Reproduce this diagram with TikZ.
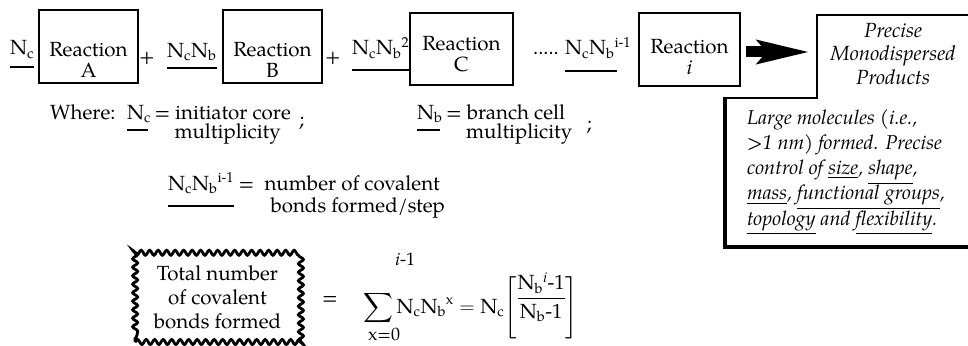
\documentclass[tikz,border=0pt]{standalone}
\usepackage{amsmath}
\usepackage{fontspec}
\setmainfont{TeX Gyre Pagella}
\usetikzlibrary{arrows.meta,decorations.pathmorphing}
\begin{document}
\begin{tikzpicture}[x=1pt,y=-1pt,
  every node/.style={inner sep=0pt, font=\fontsize{20.5}{23}\selectfont},
  rbox/.style={draw, line width=1.8pt},
  rtext/.style={align=center, font=\fontsize{20.5}{21}\selectfont},
  lab/.style={anchor=base west},
  ulthick/.style={line width=1.8pt},
  fatarrow/.style={line width=11pt, -{Stealth[length=52pt,width=22pt,inset=8pt]}},
  pbox/.style={line width=2.2pt},
  pboxthick/.style={line width=3.5pt},
  wavy/.style={draw, line width=2.8pt, decorate, decoration={snake, amplitude=2.5pt, segment length=8.5pt}},
]
\useasboundingbox (0,0) rectangle (968,345);

% ---- row 1
\node[lab] (l1) at (10,55) {N\textsubscript{c}};
\draw[ulthick] ([yshift=-12pt]l1.base west) -- ([yshift=-12pt]l1.base east);
\node[rbox, minimum width=99pt, minimum height=73pt] (bA) at (88.5,46.5) {};
\node[rtext] (tA) at (88.5,60) {Reaction\\A};

\node (p1) at (147,58) {+};
\node[lab] (l2) at (167,57) {N\textsubscript{c}N\textsubscript{b}};
\draw[ulthick] ([yshift=-11pt]l2.base west) -- ([yshift=-11pt]l2.base east);
\node[rbox, minimum width=99pt, minimum height=73pt] (bB) at (272.5,46.5) {};
\node[rtext] (tB) at (272.5,60) {Reaction\\B};

\node (p2) at (333,58) {+};
\node[lab] (l3) at (352,55) {N\textsubscript{c}N\textsubscript{b}\textsuperscript{2}};
\draw[ulthick] ([yshift=-15pt]l3.base west) -- ([yshift=-15pt]l3.base east);
\node[rbox, minimum width=103pt, minimum height=72pt] (bC) at (461.5,49) {};
\node[rtext] (tC) at (461.5,54) {Reaction\\C};

\node[lab] (dots) at (533,55) {.....};
\node[lab] (l4) at (565,55) {N\textsubscript{c}N\textsubscript{b}\textsuperscript{i-1}};
\draw[ulthick] ([yshift=-16pt]l4.base west) -- ([yshift=-16pt,xshift=-14pt]l4.base east);
\node[rbox, minimum width=101pt, minimum height=73pt] (bi) at (689.5,49.5) {};
\node[rtext] (ti) at (689.5,57) {Reaction\\\textit{i}};

% ---- arrow and product box
\coordinate (pl) at (817,52);
\draw[fatarrow] ([xshift=5pt,yshift=-2.5pt]bi.east) -- ([xshift=-6pt]pl);
\draw[pbox] (970,15) -- (817,15) -- (817,98) -- (724,98);
\draw[pboxthick] (725,97) -- (725,247) -- (970,247);
\node[align=center, font=\fontsize{20.5}{23.5}\selectfont\itshape] (prod) at (893,54) {Precise\\Monodispersed\\Products};
\node[anchor=north west, align=left, font=\fontsize{20}{25.25}\selectfont\itshape] (desc) at (747,109)
  {Large molecules (i.e.,\\>1 nm) formed. Precise\\control of \underline{size}, \underline{shape},\\\underline{mass}, \underline{functional groups},\\\underline{topology} and \underline{flexibility}.};

% ---- row 2
\node[lab] (where) at (50,119) {Where:};
\node[lab] (l5) at (127,119) {N\textsubscript{c}};
\draw[ulthick] ([yshift=-11pt]l5.base west) -- ([yshift=-11pt,xshift=-3pt]l5.base east);
\node[lab] (d1) at ([xshift=3pt]l5.base east) {= initiator core};
\node[lab] (semi1) at ([xshift=8pt,yshift=-7pt]d1.base east) {;};
\node[lab] (m1) at ([xshift=20pt,yshift=-19pt]d1.base west) {multiplicity};

\node[lab] (l6) at (417,119) {N\textsubscript{b}};
\draw[ulthick] ([yshift=-11pt]l6.base west) -- ([yshift=-11pt,xshift=-3pt]l6.base east);
\node[lab] (d2) at ([xshift=3pt]l6.base east) {= branch cell};
\node[lab] (m2) at ([xshift=20pt,yshift=-19pt]d2.base west) {multiplicity};
\node[lab] (semi2) at ([xshift=14pt,yshift=8pt]m2.base east) {;};

% ---- row 3
\node[lab] (l7) at (168,190) {N\textsubscript{c}N\textsubscript{b}\textsuperscript{i-1}};
\draw[ulthick] ([yshift=-16pt]l7.base west) -- ([yshift=-16pt]l7.base east);
\node[lab] (eq3) at ([xshift=4pt]l7.base east) {=};
\node[lab] (num) at ([xshift=10pt]eq3.base east) {number of covalent};
\node[lab] (bonds) at ([xshift=6pt,yshift=-22pt]num.base west) {bonds formed/step};

% ---- row 4
\node[wavy, minimum width=165pt, minimum height=90pt, align=center, font=\fontsize{20.5}{24}\selectfont] (tot) at (217.5,297) {Total number\\of covalent\\bonds formed};
\node[anchor=base] (eq4) at (330,304) {=};
\node[lab] (formula) at (363,313) {$\displaystyle\sum\limits_{\text{\makebox[0pt]{\hspace{12pt}\fontsize{18}{18}\selectfont x=0}}}^{\text{\makebox[0pt][l]{\hspace{17pt}\raisebox{22pt}{\fontsize{18}{18}\selectfont\itshape i\upshape -1}}}}\text{N\textsubscript{c}N\textsubscript{b}\textsuperscript{x}} = \text{N\textsubscript{c}}\Biggl[\text{\raisebox{9pt}{$\displaystyle\frac{\text{N\textsubscript{b}\textsuperscript{\itshape i}-1}}{\text{N\textsubscript{b}-1}}$}}\Biggr]$};
\end{tikzpicture}
\end{document}
